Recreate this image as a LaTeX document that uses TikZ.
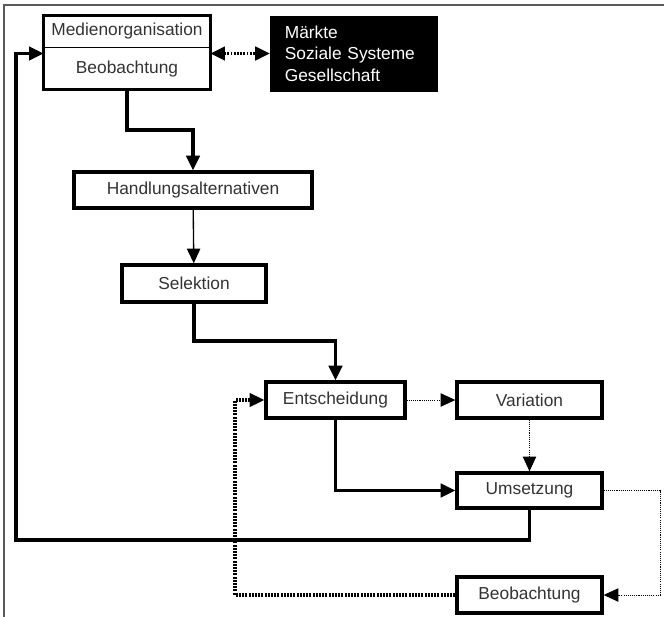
\documentclass[tikz,border=0pt]{standalone}
\usepackage{fontspec}
\setmainfont{Liberation Sans}
\usetikzlibrary{arrows.meta,positioning}

\tikzset{
  box/.style={draw=black, line width=2.5pt, fill=white, text=black!80,
    font=\fontsize{13}{16}\selectfont, inner sep=0pt},
  halfbox/.style={text=black!80, font=\fontsize{13}{16}\selectfont, inner sep=0pt,
    minimum width=124.5pt},
  weltbox/.style={draw=black, fill=black, text=white, align=left,
    font=\fontsize{13}{16}\selectfont, inner xsep=11pt, inner ysep=0pt,
    text width=103pt, minimum height=56pt},
  tip/.style={-{Triangle[length=11pt,width=10pt]}},
  strong/.style={tip, line width=2.5pt},
  plain/.style={tip, line width=1pt},
  dotline/.style={line width=2.3pt, dash pattern=on 1.4pt off 1pt},
  finedot/.style={tip, line width=0.6pt, dash pattern=on 0.8pt off 0.8pt},
}

\begin{document}
\begin{tikzpicture}[x=0.75pt, y=-0.75pt]
\useasboundingbox (0,0) rectangle (664,617);

% Rahmen
\draw[black!65, line width=0.9pt] (664,5) -- (4,5) -- (4,617);

% Knoten
\node[halfbox, minimum height=23.25pt] (medien) at (127,31.5) {Medienorganisation};
\node[halfbox, minimum height=31.5pt, anchor=north] (beob) at (medien.south) {Beobachtung};
\draw[line width=2.5pt] (medien.north west) rectangle (beob.south east);
\draw[line width=1.1pt] (medien.south west) -- (medien.south east);
\node[weltbox] (welt) at (353.5,53.5) {Märkte\\Soziale Systeme\\Gesellschaft};
\node[box, minimum width=178.5pt, minimum height=27pt] (handlung) at (193,190) {Handlungsalternativen};
\node[box, minimum width=108pt, minimum height=27.75pt] (selektion) at (194,283.5) {Selektion};
\node[box, minimum width=104.25pt, minimum height=27pt] (entscheidung) at (335.5,400) {Entscheidung};
\node[box, minimum width=108.75pt, minimum height=27pt] (variation) at (529.5,400) {Variation};
\node[box, minimum width=108.75pt, minimum height=26.25pt] (umsetzung) at (529.5,490.5) {Umsetzung};
\node[box, minimum width=108.75pt, minimum height=27pt] (beobachtung) at (529.5,595) {Beobachtung};

\coordinate (links) at (16,540);
\coordinate (eck) at (660,490.5);
\coordinate (rueck) at (235,595);

% Verbindungen
\draw[dotline, {Triangle[length=11pt,width=10pt]}-{Triangle[length=11pt,width=10pt]}] (welt.west -| beob.east) -- (welt.west);
\draw[strong] (beob.south) -- (beob.south |- 0,130) -| (handlung.north);
\draw[plain] (handlung) -- (selektion);
\draw[strong] (selektion.south) -- (selektion.south |- 0,341) -| (entscheidung.north);
\draw[finedot] (entscheidung) -- (variation);
\draw[finedot] (variation) -- (umsetzung);
\draw[strong] (entscheidung.south) |- (umsetzung.west);
\draw[strong] (umsetzung.south) |- (links) |- (welt.west -| beob.west);
\draw[finedot] (umsetzung.east) -- (eck) |- (beobachtung.east);
\draw[dotline, tip] (beobachtung.west) -- (rueck) |- (entscheidung.west);
\end{tikzpicture}
\end{document}
